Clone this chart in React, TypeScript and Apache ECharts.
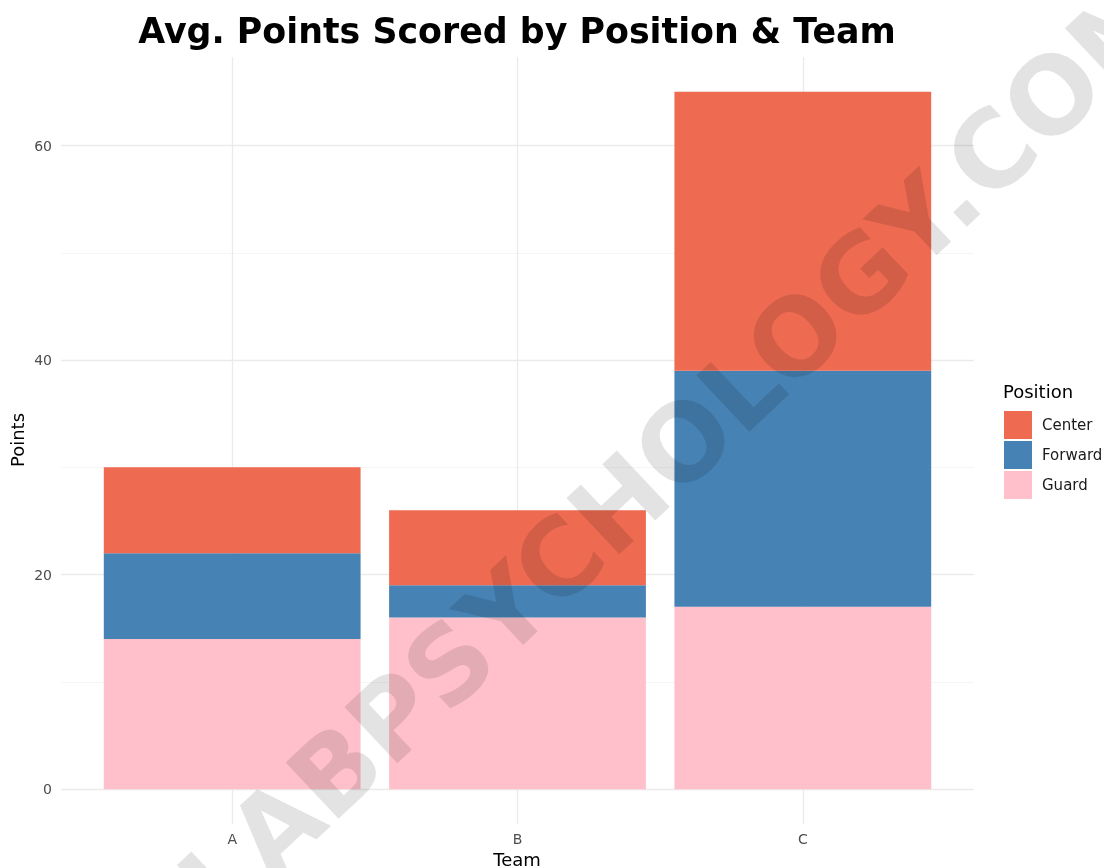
import React, { useEffect, useRef } from "react";
import * as echarts from "echarts";

const teams = ["A", "B", "C"];
const positions = ["Center", "Forward", "Guard"];
const guardPts = [14, 16, 17];
const forwardPts = [8, 3, 22];
const centerPts = [8, 7, 26];
const yTicks = [0, 20, 40, 60];
const yMinor = [10, 30, 50];
const colors: Record<string, string> = {
  Center: "#EE6A50",
  Forward: "#4682B4",
  Guard: "#FFC0CB",
};

const FONT = "DejaVu Sans";

export default function App() {
  const ref = useRef<HTMLDivElement>(null);
  useEffect(() => {
    if (!ref.current) return;
    const chart = echarts.init(ref.current, null, { renderer: "svg" });
    const xs = teams.map((_, i) => i + 1);
    // value first, team position second, so the value dimension is the stacked one
    const mk = (vals: number[]) => vals.map((v, i) => [v, xs[i]]);
    const barSeries = (name: string, vals: number[]) => ({
      name,
      type: "bar",
      stack: "total",
      barWidth: "90%",
      z: 3,
      zlevel: 1,
      encode: { x: 1, y: 0 },
      data: mk(vals),
      itemStyle: { color: colors[name] },
      emphasis: { disabled: true },
    });
    chart.setOption({
      animation: false,
      textStyle: { fontFamily: FONT },
      grid: { left: 61, right: 130, top: 57, bottom: 44 },
      xAxis: {
        type: "value",
        min: 0.4,
        max: 3.6,
        splitLine: { show: false },
        axisLine: { show: false },
        axisTick: { show: false },
        axisLabel: {
          customValues: xs,
          formatter: (v: number) => teams[Math.round(v) - 1] ?? "",
          color: "#4d4d4d",
          fontSize: 14,
          margin: 8,
          fontFamily: FONT,
        },
      },
      yAxis: {
        type: "value",
        min: -3.25,
        max: 68.25,
        splitLine: { show: false },
        axisLine: { show: false },
        axisTick: { show: false },
        axisLabel: {
          customValues: yTicks,
          color: "#4d4d4d",
          fontSize: 14,
          margin: 9,
          fontFamily: FONT,
        },
      },
      legend: {
        data: positions,
        orient: "vertical",
        left: 1004,
        top: 411,
        padding: 0,
        itemWidth: 28,
        itemHeight: 28,
        itemGap: 2,
        icon: "rect",
        selectedMode: false,
        textStyle: { fontSize: 15, color: "#1a1a1a", fontFamily: FONT, padding: [0, 0, 0, 5] },
      },
      series: [
        {
          name: "grid",
          type: "line",
          data: [],
          z: 1,
          zlevel: 0,
          silent: true,
          markLine: {
            silent: true,
            z: 1,
            symbol: "none",
            label: { show: false },
            animation: false,
            data: [
              ...yMinor.map((v) => ({ yAxis: v, lineStyle: { color: "#f2f2f2", width: 0.8, type: "solid" } })),
              ...yTicks.map((v) => ({ yAxis: v, lineStyle: { color: "#ebebeb", width: 1.3, type: "solid" } })),
              ...xs.map((v) => ({ xAxis: v, lineStyle: { color: "#ebebeb", width: 1.3, type: "solid" } })),
            ],
          },
        },
        barSeries("Guard", guardPts),
        barSeries("Forward", forwardPts),
        barSeries("Center", centerPts),
      ],
      graphic: [
        {
          type: "text",
          x: 517,
          y: 31,
          style: {
            text: "Avg. Points Scored by Position & Team",
            font: `bold 34.8px "${FONT}"`,
            fill: "#000",
            align: "center",
            verticalAlign: "middle",
          },
        },
        {
          type: "text",
          x: 517,
          y: 859,
          style: {
            text: "Team",
            font: `18px "${FONT}"`,
            fill: "#000",
            align: "center",
            verticalAlign: "middle",
          },
        },
        {
          type: "text",
          x: 17,
          y: 440,
          rotation: Math.PI / 2,
          style: {
            text: "Points",
            font: `18px "${FONT}"`,
            fill: "#000",
            align: "center",
            verticalAlign: "middle",
          },
        },
        {
          type: "text",
          x: 1003,
          y: 391,
          style: {
            text: "Position",
            font: `18px "${FONT}"`,
            fill: "#000",
            align: "left",
            verticalAlign: "middle",
          },
        },
        {
          type: "text",
          x: 680,
          y: 447,
          z: 100,
          zlevel: 2,
          rotation: (43.3 * Math.PI) / 180,
          silent: true,
          style: {
            text: "LABPSYCHOLOGY.COM",
            font: `bold 106px "${FONT}"`,
            fill: "rgba(0,0,0,0.11)",
            align: "center",
            verticalAlign: "middle",
          },
        },
      ],
    });
    return () => chart.dispose();
  }, []);
  return (
    <div
      ref={ref}
      style={{ position: "fixed", left: 0, top: 0, width: 1104, height: 868 }}
    />
  );
}
